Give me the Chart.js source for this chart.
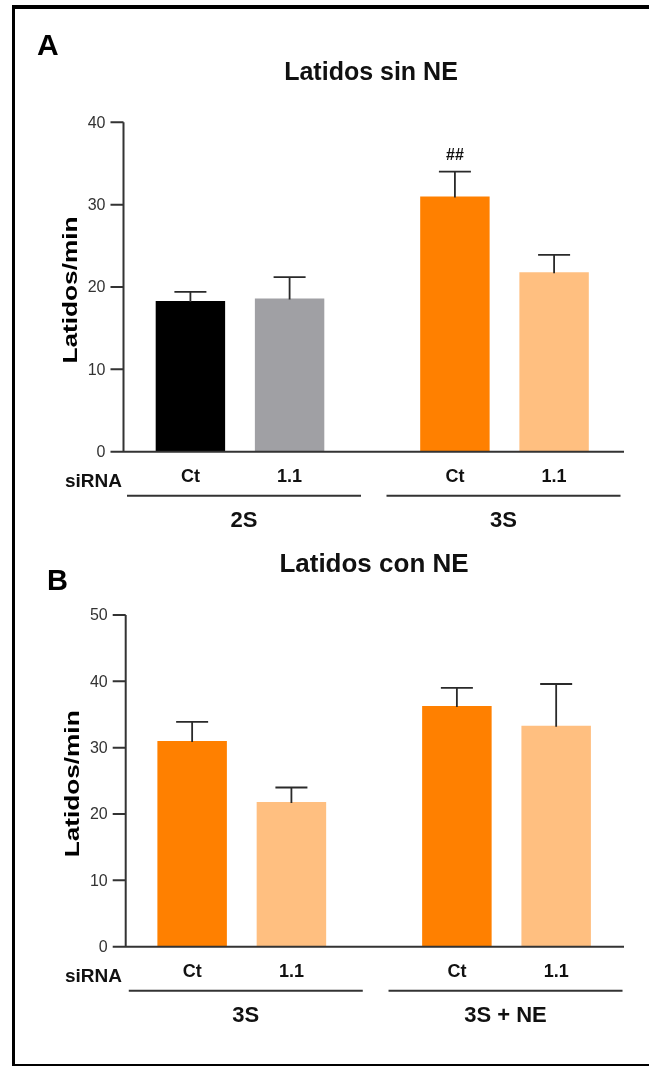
<!DOCTYPE html>
<html>
<head>
<meta charset="utf-8">
<script src="https://cdn.jsdelivr.net/npm/chart.js@4/dist/chart.umd.min.js"></script>
<style>
html,body{margin:0;padding:0;background:#fff;width:649px;height:1067px;overflow:hidden;}
#frame{position:absolute;left:12px;top:5px;width:700px;height:1055px;border-top:4px solid #000;border-left:3px solid #000;border-bottom:2px solid #000;}
.wrap{position:absolute;left:0;width:649px;}
canvas{display:block;}
</style>
</head>
<body>
<div id="frame"></div>
<div class="wrap" style="top:0;height:540px"><canvas id="cA" width="649" height="540"></canvas></div>
<div class="wrap" style="top:540px;height:527px"><canvas id="cB" width="649" height="527"></canvas></div>
<script>
// ---- data ----
const sirna = ['Ct', '1.1'];
const groupsA = ['2S', '3S'];
const groupsB = ['3S', '3S + NE'];
const ctA = [18.3, 31.0];
const ctA_sem = [1.1, 3.0];
const siA = [18.6, 21.8];
const siA_sem = [2.6, 2.1];
const ctB = [31.0, 36.3];
const ctB_sem = [2.9, 2.7];
const siB = [21.8, 33.3];
const siB_sem = [2.2, 6.3];
const ticksA = [0, 10, 20, 30, 40];
const ticksB = [0, 10, 20, 30, 40, 50];
const marksA_ct = ['', '##'];
const titleA = 'Latidos sin NE';
const titleB = 'Latidos con NE';
const yTitle = 'Latidos/min';

const FONT = '"Liberation Sans", Arial, Helvetica, sans-serif';
const ORANGE = '#FF8000', LIGHT = '#FFBF80', GRAY = '#A0A0A4', BLACK = '#000000';

const panelPlugin = {
  id: 'panel',
  afterDatasetsDraw(chart, args, o) {
    const ctx = chart.ctx, ys = chart.scales.y, xs = chart.scales.x;
    ctx.save();
    // error bars
    ctx.strokeStyle = '#2a2a2a'; ctx.lineWidth = 1.8;
    chart.data.datasets.forEach((ds, di) => {
      const meta = chart.getDatasetMeta(di);
      meta.data.forEach((el, i) => {
        const top = ys.getPixelForValue(ds.data[i] + ds.sem[i]);
        ctx.beginPath();
        ctx.moveTo(el.x, el.y + 1); ctx.lineTo(el.x, top);
        ctx.moveTo(el.x - 16, top); ctx.lineTo(el.x + 16, top);
        ctx.stroke();
        if (ds.marks && ds.marks[i]) {
          ctx.fillStyle = '#111'; ctx.font = 'bold 16px ' + FONT;
          ctx.textAlign = 'center'; ctx.textBaseline = 'alphabetic';
          ctx.fillText(ds.marks[i], el.x, top - 12);
        }
        // category label (siRNA)
        ctx.fillStyle = '#111'; ctx.font = 'bold 18px ' + FONT;
        ctx.textAlign = 'center'; ctx.textBaseline = 'alphabetic';
        ctx.fillText(chart.data.sirnaLabels[di], el.x, ys.getPixelForValue(0) + 30);
      });
    });
    // axes
    const y0 = ys.getPixelForValue(0);
    const yTop = ys.getPixelForValue(o.ticks[o.ticks.length - 1]);
    const ax = o.axisX;
    ctx.strokeStyle = '#333'; ctx.lineWidth = 2;
    ctx.beginPath();
    ctx.moveTo(ax, yTop); ctx.lineTo(ax, y0);
    o.ticks.forEach(v => { const py = ys.getPixelForValue(v); ctx.moveTo(ax - 13, py); ctx.lineTo(ax, py); });
    ctx.moveTo(ax - 13, y0); ctx.lineTo(o.axisEnd, y0);
    ctx.stroke();
    // tick labels
    ctx.fillStyle = '#333'; ctx.font = '16px ' + FONT;
    ctx.textAlign = 'right'; ctx.textBaseline = 'middle';
    o.ticks.forEach(v => ctx.fillText(String(v), ax - 18, ys.getPixelForValue(v) + 1));
    // siRNA label
    ctx.fillStyle = '#111'; ctx.font = 'bold 19px ' + FONT;
    ctx.textAlign = 'right'; ctx.textBaseline = 'alphabetic';
    ctx.fillText('siRNA', 122, y0 + 35.5);
    // group underlines and labels
    chart.data.labels.forEach((g, i) => {
      const c = xs.getPixelForValue(i) + o.groupShift[i];
      ctx.strokeStyle = '#333'; ctx.lineWidth = 2;
      ctx.beginPath(); ctx.moveTo(c - 117, y0 + 44); ctx.lineTo(c + 117, y0 + 44); ctx.stroke();
      ctx.fillStyle = '#111'; ctx.font = 'bold 22px ' + FONT;
      ctx.textAlign = 'center'; ctx.textBaseline = 'alphabetic';
      ctx.fillText(g, c, y0 + 75);
    });
    // title
    ctx.fillStyle = '#111'; ctx.font = 'bold ' + o.titleSize + 'px ' + FONT;
    ctx.textAlign = 'center'; ctx.textBaseline = 'alphabetic';
    ctx.fillText(o.title, o.titleX, o.titleY);
    // panel letter
    ctx.fillStyle = '#000'; ctx.font = 'bold ' + o.letterSize + 'px ' + FONT;
    ctx.textAlign = 'left';
    ctx.fillText(o.letter, o.letterX, o.letterY);
    // y title (stretched)
    ctx.save();
    ctx.translate(o.yTitleX, (yTop + y0) / 2 + 3);
    ctx.rotate(-Math.PI / 2);
    ctx.font = 'bold 21px ' + FONT;
    const w = ctx.measureText(yTitle).width;
    ctx.scale(147 / w, 1);
    ctx.fillStyle = '#000'; ctx.textAlign = 'center'; ctx.textBaseline = 'alphabetic';
    ctx.fillText(yTitle, 0, 0);
    ctx.restore();
    ctx.restore();
  }
};

function makeChart(id, groups, ct, ctSem, si, siSem, ctColors, siColors, ctMarks, ticks, pad, panelOpts) {
  return new Chart(document.getElementById(id), {
    type: 'bar',
    data: {
      labels: groups,
      sirnaLabels: sirna,
      datasets: [
        { label: sirna[0], data: ct, sem: ctSem, marks: ctMarks, backgroundColor: ctColors, borderWidth: 0,
          categoryPercentage: 0.75, barPercentage: 0.7 },
        { label: sirna[1], data: si, sem: siSem, backgroundColor: siColors, borderWidth: 0,
          categoryPercentage: 0.75, barPercentage: 0.7 }
      ]
    },
    options: {
      responsive: false,
      animation: false,
      layout: { padding: pad },
      plugins: { legend: { display: false }, title: { display: false }, tooltip: { enabled: false },
        panel: Object.assign({ ticks: ticks }, panelOpts) },
      scales: {
        x: { display: false, grid: { display: false } },
        y: { display: false, min: ticks[0], max: ticks[ticks.length - 1], grid: { display: false } }
      }
    },
    plugins: [panelPlugin]
  });
}

makeChart('cA', groupsA, ctA, ctA_sem, siA, siA_sem,
  [BLACK, ORANGE], [GRAY, LIGHT], marksA_ct, ticksA,
  { left: 107.75, right: 12.25, top: 122.3, bottom: 88.3 },
  { axisX: 123.5, axisEnd: 624, groupShift: [4, -1], title: titleA, titleSize: 25, titleX: 371, titleY: 80,
    letter: 'A', letterSize: 30, letterX: 37, letterY: 55, yTitleX: 77 });

makeChart('cB', groupsB, ctB, ctB_sem, siB, siB_sem,
  [ORANGE, ORANGE], [LIGHT, LIGHT], null, ticksB,
  { left: 109.4, right: 10.1, top: 75, bottom: 120.3 },
  { axisX: 125.7, axisEnd: 624, groupShift: [4, -1], title: titleB, titleSize: 26, titleX: 374, titleY: 32,
    letter: 'B', letterSize: 29, letterX: 47, letterY: 50, yTitleX: 79 });
</script>
</body>
</html>
